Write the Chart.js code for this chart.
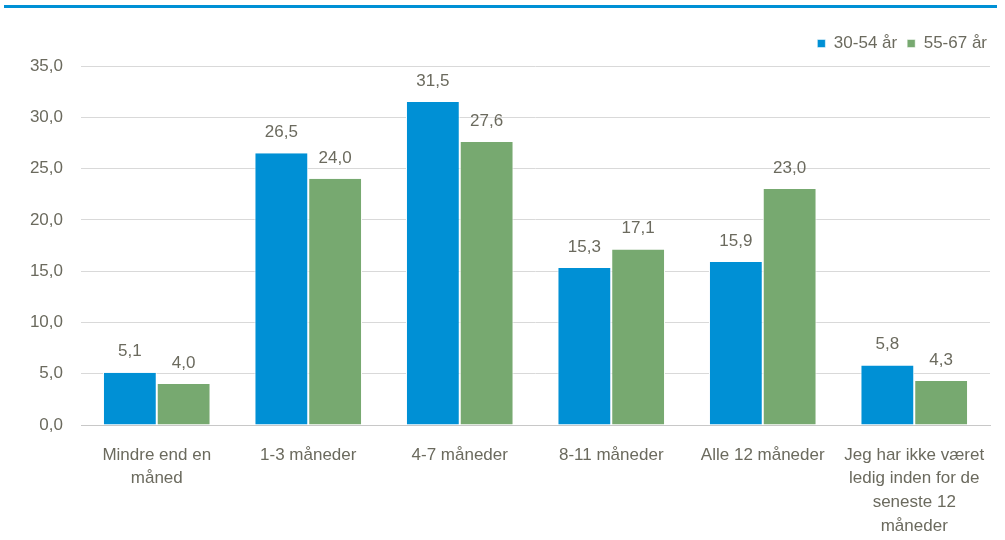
<!DOCTYPE html>
<html>
<head>
<meta charset="utf-8">
<script src="https://cdn.jsdelivr.net/npm/chart.js@4.4.0/dist/chart.umd.min.js"></script>
<style>
  body { margin: 0; background: #fff; }
  #topline { position: absolute; left: 4px; top: 5px; width: 993px; height: 3px; background: #0090d5; }
  #wrap { position: absolute; left: 0; top: 0; width: 1005px; height: 540px; }
</style>
</head>
<body>
<div id="topline"></div>
<div id="wrap"><canvas id="myChart" width="1005" height="540"></canvas></div>
<script>
var categories = [
    ["Mindre end en", "måned"],
    "1-3 måneder",
    "4-7 måneder",
    "8-11 måneder",
    "Alle 12 måneder",
    ["Jeg har ikke været", "ledig inden for de", "seneste 12", "måneder"]
];
var seriesNames = ["30-54 år", "55-67 år"];
var values3054 = [5.1, 26.5, 31.5, 15.3, 15.9, 5.8];
var values5567 = [4.0, 24.0, 27.6, 17.1, 23.0, 4.3];
var yTicks = [0, 5, 10, 15, 20, 25, 30, 35];

var textColor = '#6b6a5e';
var fontFamily = '"Liberation Sans", Arial, sans-serif';
var fontSize = 17;

function fmt(v) {
    return v.toFixed(1).replace('.', ',');
}

// draws the value above each bar
var valueLabels = {
    id: 'valueLabels',
    afterDatasetsDraw: function (chart) {
        var ctx = chart.ctx;
        ctx.save();
        ctx.font = fontSize + 'px ' + fontFamily;
        ctx.fillStyle = textColor;
        ctx.textAlign = 'center';
        ctx.textBaseline = 'middle';
        chart.data.datasets.forEach(function (ds, i) {
            chart.getDatasetMeta(i).data.forEach(function (bar, j) {
                ctx.fillText(fmt(ds.data[j]), bar.x, bar.y - 21);
            });
        });
        ctx.restore();
    }
};

// extra room under the legend, and push it to the right edge
var legendGap = {
    id: 'legendGap',
    beforeInit: function (chart) {
        var fit = chart.legend.fit;
        chart.legend.fit = function () {
            fit.bind(chart.legend)();
            this.height += 4;
        };
    },
    afterLayout: function (chart) {
        chart.legend.left += 7;
        chart.legend.right += 7;
    }
};

var ctx = document.getElementById("myChart").getContext('2d');

var myChart = new Chart(ctx, {
    type: 'bar',
    data: {
        labels: categories,
        datasets: [{
            label: seriesNames[0],
            data: values3054,
            backgroundColor: '#0090d5',
            borderColor: '#ffffff',
            borderWidth: { left: 1, right: 1, top: 0, bottom: 0 },
            borderSkipped: false
        }, {
            label: seriesNames[1],
            data: values5567,
            backgroundColor: '#77a970',
            borderColor: '#ffffff',
            borderWidth: { left: 1, right: 1, top: 0, bottom: 0 },
            borderSkipped: false
        }]
    },
    options: {
        responsive: false,
        animation: false,
        layout: { padding: { top: 25, right: 15, left: 0, bottom: 0 } },
        datasets: { bar: { categoryPercentage: 0.71, barPercentage: 1 } },
        plugins: {
            legend: {
                position: 'top',
                align: 'end',
                labels: {
                    boxWidth: 8,
                    boxHeight: 8,
                    padding: 10,
                    color: textColor,
                    font: { size: fontSize, family: fontFamily }
                }
            },
            tooltip: { enabled: false }
        },
        scales: {
            x: {
                grid: { display: false },
                border: { color: '#c8c8c8', width: 1 },
                ticks: {
                    color: textColor,
                    font: { size: fontSize, family: fontFamily, lineHeight: 1.4 },
                    maxRotation: 0,
                    autoSkip: false,
                    padding: 10
                },
                afterFit: function (scale) { scale.height = 115; }
            },
            y: {
                min: 0,
                max: 35,
                afterBuildTicks: function (scale) {
                    scale.ticks = yTicks.map(function (v) { return { value: v }; });
                },
                grid: { color: '#d9d9d9', drawTicks: false },
                border: { display: false },
                ticks: {
                    color: textColor,
                    font: { size: fontSize, family: fontFamily },
                    padding: 18,
                    callback: function (v) { return fmt(v); }
                },
                afterFit: function (scale) { scale.width = 81; }
            }
        }
    },
    plugins: [valueLabels, legendGap]
});
</script>
</body>
</html>
